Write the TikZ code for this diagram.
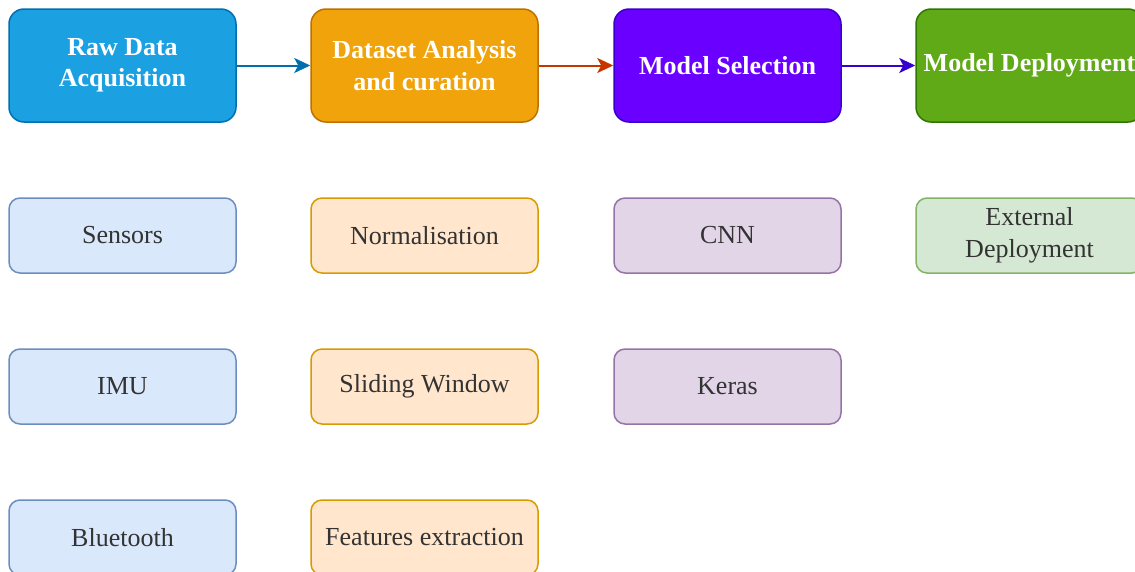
\documentclass[tikz,border=0pt]{standalone}
\usepackage{fontspec}
\setmainfont{Liberation Serif}
\usetikzlibrary{arrows.meta}
\definecolor{bluefill}{HTML}{1BA1E2}\definecolor{bluedraw}{HTML}{006EAF}
\definecolor{orfill}{HTML}{F0A30A}\definecolor{ordraw}{HTML}{BD7000}
\definecolor{pufill}{HTML}{6A00FF}\definecolor{pudraw}{HTML}{3700CC}
\definecolor{grfill}{HTML}{60A917}\definecolor{grdraw}{HTML}{2D7600}
\definecolor{lbfill}{HTML}{DAE8FC}\definecolor{lbdraw}{HTML}{6C8EBF}
\definecolor{lofill}{HTML}{FFE6CC}\definecolor{lodraw}{HTML}{D79B00}
\definecolor{lpfill}{HTML}{E1D5E7}\definecolor{lpdraw}{HTML}{9673A6}
\definecolor{lgfill}{HTML}{D5E8D4}\definecolor{lgdraw}{HTML}{82B366}
\definecolor{arrred}{HTML}{C73500}
\definecolor{txtgray}{HTML}{333333}
\tikzset{
  headbox/.style={draw, line width=1.5pt, rounded corners=15pt, minimum width=227pt, minimum height=113pt,
    align=center, text=white, font=\fontsize{26}{31.5}\selectfont\bfseries, inner sep=0pt},
  subbox/.style={draw, line width=1.5pt, rounded corners=11pt, minimum width=227pt, minimum height=75pt,
    align=center, text=txtgray, font=\fontsize{26}{31.5}\selectfont, inner sep=0pt},
  flow/.style={line width=2pt, -{Stealth[length=16pt,width=15pt,inset=4pt]}}
}
\begin{document}
\begin{tikzpicture}[x=1pt,y=-1pt]
\useasboundingbox (0,0) rectangle (1135,571);
\clip (0,0) rectangle (1135,571);
% top row
\node[headbox, fill=bluefill, draw=bluedraw] (raw) at (122.5,65.5) {Raw Data\\Acquisition};
\node[headbox, fill=orfill, draw=ordraw] (dat) at (424.5,65.5) {Dataset Analysis\\and curation};
\node[headbox, fill=pufill, draw=pudraw] (sel) at (727.5,65.5) {Model Selection};
\node[headbox, fill=grfill, draw=grdraw] (dep) at (1029.5,65.5) {Model Deployment};
% column 1
\node[subbox, fill=lbfill, draw=lbdraw] (sens) at (122.5,235.5) {Sensors};
\node[subbox, fill=lbfill, draw=lbdraw] (imu) at (122.5,386.5) {IMU};
\node[subbox, fill=lbfill, draw=lbdraw] (bt) at (122.5,537.5) {Bluetooth};
% column 2
\node[subbox, fill=lofill, draw=lodraw] (norm) at (424.5,235.5) {Normalisation};
\node[subbox, fill=lofill, draw=lodraw] (slide) at (424.5,386.5) {Sliding Window};
\node[subbox, fill=lofill, draw=lodraw] (feat) at (424.5,537.5) {Features extraction};
% column 3
\node[subbox, fill=lpfill, draw=lpdraw] (cnn) at (727.5,235.5) {CNN};
\node[subbox, fill=lpfill, draw=lpdraw] (keras) at (727.5,386.5) {Keras};
% column 4
\node[subbox, fill=lgfill, draw=lgdraw] (ext) at (1029.5,235.5) {External\\Deployment};
% arrows
\draw[flow, draw=bluedraw, fill=bluedraw] (raw.east) -- (dat.west);
\draw[flow, draw=arrred, fill=arrred] (dat.east) -- (sel.west);
\draw[flow, draw=pudraw, fill=pudraw] (sel.east) -- (dep.west);
\end{tikzpicture}
\end{document}
